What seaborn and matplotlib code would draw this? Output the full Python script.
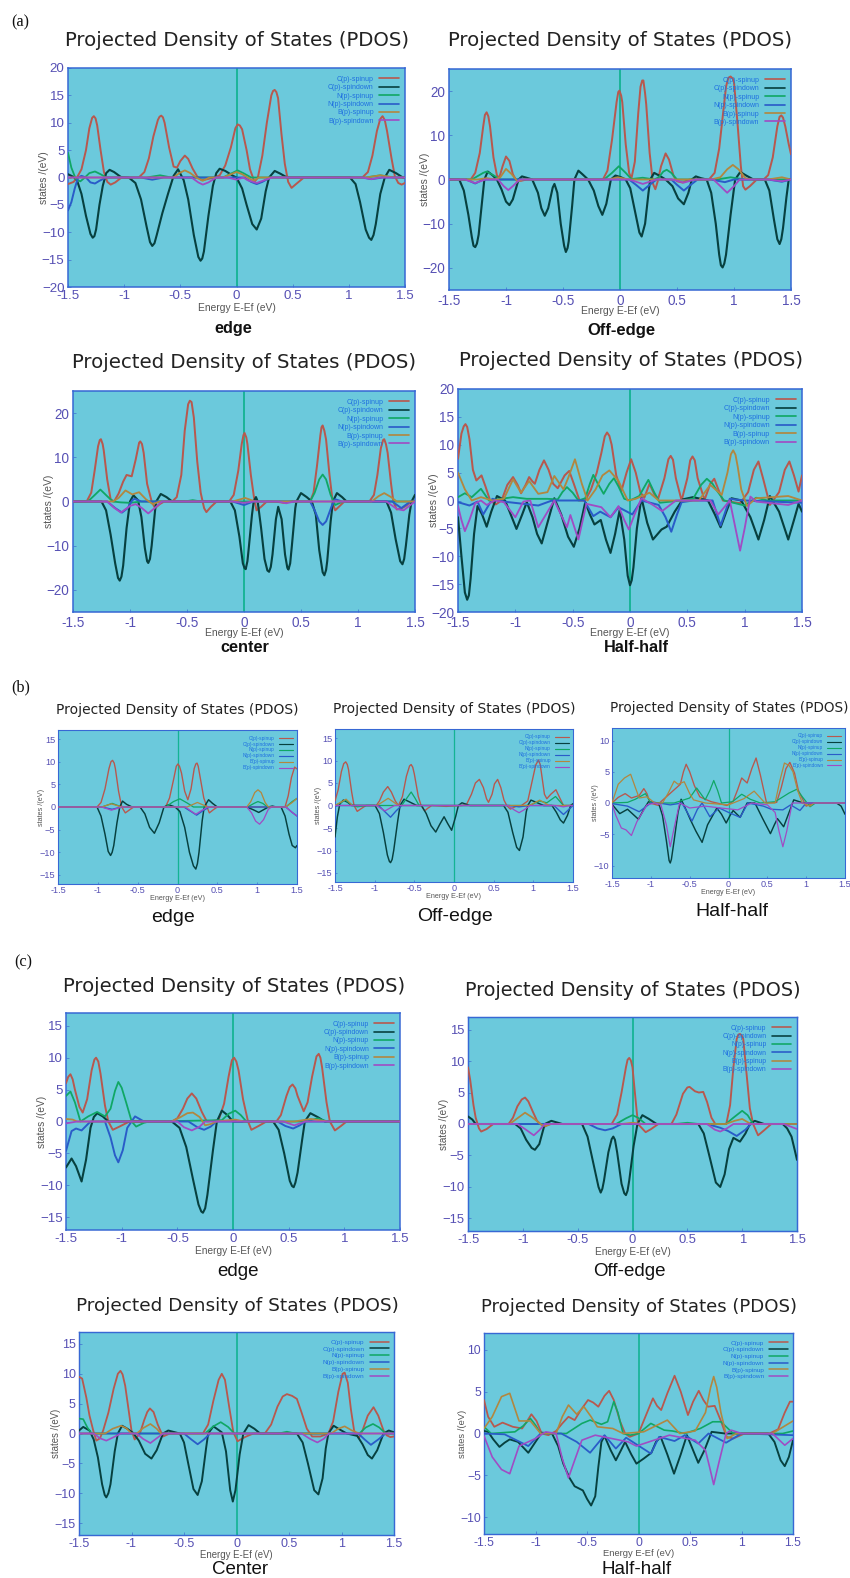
"""
PDOS panels (a), (b), (c) - curves read off the published figure.
Each curve is a list of (energy, states) points.
"""

import matplotlib
matplotlib.use('Agg')
import matplotlib.pyplot as plt
import seaborn as sns

W, H = 850, 1578

LABELS = ['C(p)-spinup', 'C(p)-spindown', 'N(p)-spinup', 'N(p)-spindown', 'B(p)-spinup', 'B(p)-spindown']
COLORS = ['#b8584e', '#07403f', '#10a765', '#2a5cc8', '#b2873f', '#a04cc4']
WIDTHS = [1.4, 1.5, 1.3, 1.4, 1.3, 1.3]
XTICKS = [-1.5, -1, -0.5, 0, 0.5, 1, 1.5]
XTICKLABELS = ['-1.5', '-1', '-0.5', '0', '0.5', '1', '1.5']
TITLE = 'Projected Density of States (PDOS)'

# ---- panel (a) edge
A1_CUP = [(-1.5,-1.2),(-1.45,-0.8),(-1.42,0),(-1.38,1.5),(-1.34,5),(-1.31,9),(-1.285,10.9),(-1.27,11.2),(-1.255,10.8),(-1.24,9.5),(-1.21,5),(-1.18,1),(-1.15,-0.8),(-1.12,-1.3),(-1.08,-0.9),(-1.03,-0.1),(-0.87,0),(-0.82,1),(-0.78,3.5),(-0.74,7.5),(-0.70,10.5),(-0.685,11.1),(-0.67,11.3),(-0.655,11),(-0.64,10),(-0.60,5.5),(-0.56,2),(-0.53,1.8),(-0.5,3),(-0.46,4),(-0.43,3.4),(-0.39,1.6),(-0.35,0.2),(-0.31,-0.5),(-0.26,-0.3),(-0.2,0),(-0.15,0.4),(-0.1,2.2),(-0.05,5.5),(-0.01,9),(0.01,9.7),(0.03,9.5),(0.05,8.8),(0.09,5),(0.12,1.5),(0.16,-0.8),(0.19,0),(0.23,4),(0.27,10),(0.31,15),(0.325,15.8),(0.34,16),(0.355,15.6),(0.37,14.5),(0.40,8),(0.43,2.5),(0.46,-0.8),(0.49,-1.9),(0.53,-1.2),(0.6,0),(1.12,0),(1.17,1),(1.21,4),(1.25,8.5),(1.28,10.7),(1.3,11.2),(1.32,10.5),(1.34,8.5),(1.38,3.5),(1.41,0.2),(1.44,-1),(1.47,-1.3),(1.5,-1)]
A1_CDN = [(-1.5,0.6),(-1.45,0.1),(-1.42,-0.5),(-1.38,-3),(-1.34,-7),(-1.3,-10.3),(-1.28,-11),(-1.265,-10.7),(-1.25,-9.5),(-1.22,-5),(-1.19,-1.5),(-1.16,0.8),(-1.13,1.4),(-1.09,1),(-1.03,0.1),(-0.96,0),(-0.9,-1),(-0.85,-4),(-0.8,-9),(-0.77,-11.8),(-0.75,-12.5),(-0.73,-12),(-0.71,-10.5),(-0.66,-6.5),(-0.61,-3),(-0.56,0.3),(-0.52,1.5),(-0.47,-0.5),(-0.43,-4),(-0.38,-10.5),(-0.34,-14.5),(-0.32,-15.2),(-0.305,-14.8),(-0.29,-13.5),(-0.25,-7),(-0.21,-1.5),(-0.18,0.8),(-0.15,1.6),(-0.1,1.2),(-0.03,0.3),(0,0),(0.05,-2),(0.09,-5),(0.14,-8.5),(0.18,-9.5),(0.22,-7.5),(0.26,-2.5),(0.29,0),(0.34,1.2),(0.39,0.7),(0.45,0),(1.01,0),(1.06,-1.2),(1.1,-4.5),(1.15,-9.5),(1.18,-11),(1.2,-11.4),(1.22,-10.5),(1.24,-8.5),(1.28,-3),(1.32,0),(1.36,1.4),(1.42,0.8),(1.48,0),(1.5,0)]
A1_NUP = [(-1.5,4.5),(-1.47,1.8),(-1.43,-0.3),(-1.39,-0.7),(-1.35,0),(-1.31,0.8),(-1.26,1.1),(-1.21,0.6),(-1.16,0),(-0.8,0),(-0.68,0.4),(-0.58,0),(-0.12,0),(-0.05,0.7),(0.01,1.3),(0.07,0.7),(0.13,0),(1.15,0),(1.28,0.4),(1.4,0),(1.5,0)]
A1_NDN = [(-1.5,-6),(-1.47,-4.5),(-1.44,-2),(-1.41,0),(-1.38,0.3),(-1.34,0),(-1.3,-0.9),(-1.26,-1.1),(-1.22,-0.6),(-1.16,0),(-0.85,0),(-0.75,-0.4),(-0.65,0),(0.07,0),(0.13,-0.8),(0.18,-1.2),(0.23,-0.8),(0.3,0),(1.12,0),(1.2,-0.3),(1.3,0),(1.5,0)]
A1_BUP = [(-1.5,0),(-0.56,0),(-0.51,0.8),(-0.46,1.3),(-0.41,0.8),(-0.36,0),(-0.3,-0.6),(-0.24,0),(-0.12,0),(-0.05,0.6),(0,1),(0.05,0.6),(0.1,0),(0.15,-0.6),(0.2,0),(1.15,0),(1.28,0.4),(1.4,0),(1.5,0)]
A1_BDN = [(-1.5,0),(-0.4,0),(-0.34,-0.9),(-0.3,-1.3),(-0.25,-0.9),(-0.18,0),(-0.08,0),(0,-0.4),(0.06,0),(0.1,-0.5),(0.18,-1),(0.26,-0.4),(0.32,0),(1.12,0),(1.2,-0.3),(1.28,0),(1.5,0)]

# ---- panel (a) off-edge
A2_CUP = [(-1.5,0),(-1.31,0),(-1.27,1.5),(-1.23,6),(-1.2,12),(-1.185,14.6),(-1.17,15.2),(-1.155,14.3),(-1.14,12),(-1.11,5),(-1.08,1),(-1.06,0.3),(-1.03,3),(-1,5.2),(-0.97,4.2),(-0.94,1.2),(-0.91,-0.2),(-0.87,-0.3),(-0.82,0),(-0.15,0),(-0.11,2),(-0.07,9),(-0.03,17.5),(-0.015,19.8),(-0.005,20.1),(0.01,19),(0.02,17.5),(0.05,8),(0.08,1.5),(0.1,0.2),(0.13,4),(0.16,15),(0.18,21),(0.195,22.4),(0.205,22.4),(0.22,19.5),(0.23,17),(0.26,6),(0.29,-1),(0.31,-2.2),(0.33,-0.5),(0.36,3),(0.4,5.9),(0.43,4.5),(0.47,0.8),(0.5,-0.4),(0.55,-0.7),(0.61,0),(0.78,0),(0.83,1.5),(0.87,7),(0.9,14),(0.93,21),(0.95,23),(0.97,23.3),(0.99,22.8),(1.0,22),(1.03,13),(1.06,3),(1.08,-1.5),(1.1,-2.3),(1.14,-1.5),(1.2,0),(1.26,0),(1.3,1),(1.34,5),(1.38,12),(1.4,14.2),(1.415,14.5),(1.43,14),(1.45,12),(1.48,8),(1.5,5.7)]
A2_CDN = [(-1.5,0),(-1.41,0),(-1.37,-2.5),(-1.33,-8),(-1.3,-13),(-1.285,-15),(-1.27,-15.3),(-1.255,-14.5),(-1.24,-12.5),(-1.21,-5),(-1.19,0),(-1.16,1.8),(-1.12,1),(-1.08,0),(-1.04,-2.2),(-1,-5),(-0.97,-5.8),(-0.94,-4.5),(-0.89,0),(-0.86,0.7),(-0.82,0.4),(-0.77,0),(-0.72,-3),(-0.69,-6.5),(-0.66,-8.2),(-0.63,-6.5),(-0.59,-1.8),(-0.575,-1),(-0.55,-3),(-0.52,-10),(-0.49,-15),(-0.475,-16.4),(-0.46,-15.5),(-0.45,-14),(-0.42,-6),(-0.4,0),(-0.365,2),(-0.33,1.2),(-0.28,0),(-0.23,-2.5),(-0.19,-6),(-0.155,-8),(-0.12,-5.5),(-0.08,0),(-0.04,0.9),(0.01,0.5),(0.05,0),(0.09,-2),(0.13,-7),(0.17,-12),(0.19,-12.9),(0.22,-10),(0.25,-3),(0.265,0),(0.3,1.5),(0.35,0.8),(0.4,0),(0.46,-1.5),(0.51,-4.3),(0.56,-5.6),(0.6,-3),(0.63,0),(0.665,0.7),(0.71,0.3),(0.76,0),(0.8,-3),(0.84,-10),(0.87,-17),(0.885,-19.4),(0.9,-19.9),(0.915,-19),(0.93,-17),(0.97,-8),(1.01,0),(1.055,1.7),(1.1,1),(1.17,0),(1.27,0),(1.31,-2.5),(1.35,-9),(1.38,-13.5),(1.4,-14.6),(1.415,-13.5),(1.43,-11),(1.46,-4),(1.48,0),(1.5,0)]
A2_NUP = [(-1.5,0),(-1.3,0),(-1.2,1.5),(-1.17,1.8),(-1.1,0.8),(-1.05,0),(-0.14,0),(-0.07,1.5),(-0.01,3),(0.05,1.5),(0.1,0.1),(0.2,0.4),(0.3,0),(0.34,0.5),(0.38,1.8),(0.41,2.2),(0.45,1.5),(0.5,0),(0.85,0),(0.97,0.5),(1.1,0),(1.5,0)]
A2_NDN = [(-1.5,0),(-1.35,0),(-1.27,-0.9),(-1.2,0),(0.08,0),(0.14,-1.2),(0.2,-2.5),(0.26,-1.2),(0.32,0),(0.45,0),(0.5,-1.2),(0.56,-2.5),(0.62,-1.2),(0.68,0),(0.8,0),(0.92,-0.6),(1.0,0),(1.3,0),(1.42,-0.5),(1.5,0)]
A2_BUP = [(-1.5,0),(-1.25,0),(-1.17,0.3),(-1.1,0),(-1.05,0.5),(-1.0,2.4),(-0.95,1.2),(-0.9,-0.4),(-0.85,0),(-0.1,0),(-0.02,0.5),(0.08,0),(0.8,0),(0.88,0.5),(0.94,2.3),(0.99,3.3),(1.04,2.3),(1.1,0.3),(1.15,0),(1.3,0),(1.42,0.5),(1.5,0)]
A2_BDN = [(-1.5,0),(-1.36,0),(-1.27,-0.8),(-1.18,0),(-1.07,0),(-1.02,-1.5),(-0.98,-2.4),(-0.94,-1.5),(-0.88,0),(0.08,0),(0.2,-1),(0.32,0),(0.46,0),(0.56,-0.7),(0.66,0),(0.82,0),(0.88,-1.5),(0.94,-3),(1.0,-1.5),(1.05,0),(1.3,0),(1.42,-0.4),(1.5,0)]

# ---- panel (a) center
A3_CUP = [(-1.5,0),(-1.38,0),(-1.34,2),(-1.31,7),(-1.28,12.5),(-1.265,13.9),(-1.255,14.1),(-1.24,13),(-1.23,11.5),(-1.2,5),(-1.17,0.5),(-1.14,0),(-1.1,1.8),(-1.06,4.5),(-1.03,6),(-0.985,5.7),(-0.95,9.5),(-0.92,13.3),(-0.91,13.6),(-0.895,13),(-0.88,11),(-0.85,4),(-0.81,0),(-0.78,-1.5),(-0.74,-0.6),(-0.7,0),(-0.63,0),(-0.59,1),(-0.55,6),(-0.52,16),(-0.49,22),(-0.475,22.8),(-0.46,22.5),(-0.44,19),(-0.41,9),(-0.38,2),(-0.35,-1.5),(-0.33,-2.4),(-0.29,-1.2),(-0.24,0),(-0.13,0),(-0.09,1.5),(-0.05,7),(-0.02,13),(-0.005,15),(0.005,15.5),(0.02,14.5),(0.03,13),(0.06,6),(0.09,0.5),(0.11,-2),(0.15,-1.2),(0.2,0),(0.3,-0.1),(0.35,-0.3),(0.42,0),(0.58,0),(0.61,2),(0.64,8),(0.67,15),(0.68,16.8),(0.69,17.2),(0.705,16),(0.72,14),(0.75,6),(0.78,-0.5),(0.8,-2),(0.84,-1),(0.88,0),(1.1,0),(1.14,1.5),(1.17,6),(1.2,12),(1.22,13.9),(1.23,14.1),(1.245,13),(1.26,11),(1.29,4),(1.31,0),(1.34,-1.8),(1.38,-1.6),(1.42,-1),(1.47,0),(1.5,0)]
A3_CDN = [(-1.5,0),(-1.25,0),(-1.21,-2),(-1.17,-7.5),(-1.13,-14),(-1.105,-17.3),(-1.09,-17.9),(-1.075,-17),(-1.06,-14.5),(-1.03,-6),(-1.0,0),(-0.97,1.4),(-0.93,0.3),(-0.9,-3.5),(-0.87,-10.5),(-0.85,-13.5),(-0.84,-13.9),(-0.825,-13),(-0.81,-10),(-0.78,-2),(-0.77,0),(-0.73,1.7),(-0.68,1),(-0.63,0),(-0.12,0),(-0.08,-2),(-0.04,-8),(-0.01,-14),(0.005,-15.1),(0.015,-15.3),(0.03,-13.5),(0.04,-11),(0.07,-3),(0.085,0),(0.105,1),(0.12,0),(0.15,-6),(0.18,-13),(0.205,-15.6),(0.22,-15.9),(0.235,-14.8),(0.25,-12),(0.28,-4),(0.3,-1.2),(0.33,-4),(0.36,-12),(0.38,-15),(0.39,-15.4),(0.405,-14),(0.42,-10),(0.45,-1.5),(0.46,0),(0.5,1.9),(0.55,1),(0.595,0),(0.63,-3),(0.66,-11),(0.69,-16),(0.705,-16.7),(0.72,-15.5),(0.73,-13.5),(0.76,-4.5),(0.78,0),(0.815,1.9),(0.86,1),(0.9,0),(1.25,0),(1.29,-2.5),(1.33,-8.5),(1.37,-13.5),(1.39,-14.2),(1.405,-13),(1.42,-10),(1.45,-3),(1.47,0),(1.5,1.5)]
A3_NUP = [(-1.5,0),(-1.37,0),(-1.32,1.2),(-1.26,2.7),(-1.2,1.2),(-1.15,0),(-1.08,-0.2),(-1,-0.3),(-0.9,0),(-0.52,0),(-0.45,0.3),(-0.38,0),(0.58,0),(0.62,2),(0.66,5),(0.69,6.1),(0.72,5),(0.76,1.5),(0.8,-0.8),(0.85,-0.2),(0.9,0),(1.5,0)]
A3_NDN = [(-1.5,0),(-1.2,0),(-1.13,-1.5),(-1.07,-2.5),(-1.02,-1.5),(-0.98,0.3),(-0.96,0.6),(-0.9,0),(-0.1,0),(0.0,-0.8),(0.08,0),(0.58,0),(0.62,-2),(0.66,-4.5),(0.69,-5.3),(0.72,-4.5),(0.77,-1),(0.8,0.5),(0.86,0),(1.3,0),(1.38,-1.5),(1.46,0),(1.5,0)]
A3_BUP = [(-1.5,0),(-1.15,0),(-1.1,0.8),(-1.04,2.5),(-0.98,1.6),(-0.92,2.1),(-0.86,0.5),(-0.8,-0.6),(-0.74,0),(-0.1,0),(0.01,0.8),(0.1,0),(1.12,0),(1.18,1.2),(1.23,1.9),(1.29,1),(1.34,0),(1.5,0)]
A3_BDN = [(-1.5,0),(-1.2,0),(-1.14,-1.4),(-1.08,-2.5),(-1,-1),(-0.95,-0.6),(-0.9,-1.4),(-0.84,-2.7),(-0.78,-1.4),(-0.72,0),(-0.1,0),(0,-0.3),(0.08,0),(0.3,0),(0.37,-0.4),(0.44,0),(1.25,0),(1.33,-1.5),(1.36,-1.8),(1.4,-2),(1.45,-1),(1.5,0)]

# ---- panel (a) half-half
A4_CUP = [(-1.5,7.5),(-1.47,12),(-1.45,13.3),(-1.435,13.7),(-1.42,13.2),(-1.4,11),(-1.37,5.5),(-1.34,3.6),(-1.295,4.5),(-1.26,2.5),(-1.22,0),(-1.17,-0.7),(-1.12,0),(-1.07,2.8),(-1.02,4.2),(-0.98,2.8),(-0.95,1.3),(-0.91,2.8),(-0.88,4.2),(-0.85,3.4),(-0.83,3),(-0.79,5.5),(-0.75,7.2),(-0.71,5.5),(-0.67,3),(-0.63,2.2),(-0.57,4.5),(-0.53,5.3),(-0.49,3),(-0.44,0),(-0.39,0),(-0.34,2),(-0.29,5),(-0.25,8.5),(-0.22,11.5),(-0.2,12.2),(-0.18,11.6),(-0.16,10),(-0.12,4.5),(-0.075,1.7),(-0.03,5),(0.01,7.4),(0.05,5),(0.09,1.5),(0.125,0.5),(0.17,3),(0.21,1.2),(0.245,0.3),(0.3,4),(0.335,7.4),(0.355,8),(0.375,7.3),(0.4,4),(0.45,0),(0.5,4),(0.525,7.2),(0.545,7.9),(0.565,7.2),(0.59,4),(0.65,0.1),(0.7,3),(0.735,3.9),(0.77,2),(0.81,0),(0.96,-0.5),(1.03,1.5),(1.08,5.5),(1.12,7),(1.16,4),(1.22,-0.8),(1.3,1.5),(1.35,5.5),(1.39,7),(1.43,4.5),(1.47,1.6),(1.5,4.5)]
A4_CDN = [(-1.5,-3),(-1.47,-10),(-1.44,-16.5),(-1.42,-17.8),(-1.405,-17),(-1.39,-14),(-1.36,-6),(-1.33,-1),(-1.29,-2.5),(-1.25,-4.7),(-1.21,-2),(-1.16,0.8),(-1.09,0),(-1.05,-2),(-0.99,-5.1),(-0.94,-2.5),(-0.9,-0.3),(-0.85,-3),(-0.81,-6),(-0.77,-7.7),(-0.72,-4),(-0.66,0.4),(-0.6,-2.5),(-0.54,-6.5),(-0.49,-8.3),(-0.44,-5),(-0.39,-0.3),(-0.35,-2.5),(-0.31,-4.3),(-0.255,-3.5),(-0.21,-7),(-0.17,-9.4),(-0.13,-6),(-0.09,-1.7),(-0.05,-7),(-0.02,-13.5),(0,-15.2),(0.015,-14.3),(0.03,-12),(0.06,-5),(0.1,0.5),(0.15,-4),(0.2,-7),(0.275,-5.2),(0.32,-4.7),(0.39,-2),(0.46,0.2),(0.55,0.6),(0.68,0),(0.74,-2.5),(0.79,-4.8),(0.84,-2),(0.885,0.4),(0.97,0),(1.05,-3),(1.12,-7),(1.17,-3.5),(1.22,0.8),(1.3,-2),(1.38,-7),(1.43,-3.5),(1.47,-0.6),(1.5,-2)]
A4_NUP = [(-1.5,0.6),(-1.44,1.3),(-1.38,0.6),(-1.3,2.1),(-1.23,0),(-1.02,0.6),(-0.9,0.3),(-0.72,0.3),(-0.63,0.2),(-0.59,1.5),(-0.55,2.4),(-0.5,1.4),(-0.45,0),(-0.39,0.4),(-0.35,3),(-0.32,4.6),(-0.28,3),(-0.23,1.2),(-0.18,3),(-0.14,4),(-0.1,2.5),(-0.05,0.3),(0,0),(0.08,0.8),(0.16,3.7),(0.21,1.5),(0.26,-0.4),(0.45,0),(0.55,0.3),(0.62,2.8),(0.67,3.9),(0.72,3),(0.75,2),(0.82,0),(1,-0.9),(1.1,0.5),(1.2,0),(1.5,0)]
A4_NDN = [(-1.5,-0.3),(-1.4,-0.9),(-1.33,-0.2),(-1.28,-2.5),(-1.2,0.3),(-1.1,-0.2),(-0.8,-0.9),(-0.68,0),(-0.4,0),(-0.32,-2.8),(-0.26,-2),(-0.17,-3),(-0.1,-1.2),(0.02,-2.5),(0.1,0),(0.25,-0.8),(0.31,-3),(0.36,-5.6),(0.41,-2.5),(0.45,-0.3),(0.55,0),(0.72,0),(0.79,-4.5),(0.87,0.3),(1,0),(1.5,-0.4)]
A4_BUP = [(-1.5,5),(-1.44,2),(-1.38,0),(-1.3,0.6),(-1.2,0),(-1.1,0.3),(-1.02,3.8),(-0.95,1.4),(-0.88,3.5),(-0.8,1.2),(-0.72,1.5),(-0.66,4.4),(-0.58,2),(-0.54,4),(-0.48,7.4),(-0.42,3),(-0.37,0),(-0.3,2),(-0.24,4.5),(-0.18,5.4),(-0.1,3.5),(-0.02,0),(0.05,0.3),(0.17,1.4),(0.25,0),(0.6,0),(0.7,2.8),(0.8,1),(0.85,5),(0.88,8.3),(0.9,9),(0.92,8.2),(0.94,6),(0.97,2),(1.02,-1),(1.1,0.4),(1.38,0.8),(1.5,0)]
A4_BDN = [(-1.5,-1),(-1.47,-3.5),(-1.44,-5.5),(-1.4,-3.5),(-1.35,-0.5),(-1.3,0),(-1.25,-0.8),(-1.18,0),(-1.1,-0.3),(-1.0,-3),(-0.93,-0.2),(-0.87,0),(-0.8,-4.8),(-0.66,0),(-0.55,-4.8),(-0.52,-2.6),(-0.45,-7),(-0.38,-0.6),(-0.25,-1.2),(-0.17,-3),(-0.1,-1),(-0.05,-3.5),(-0.01,-5.2),(0.04,-2.5),(0.1,0.4),(0.2,-0.8),(0.28,-1.9),(0.4,0),(0.7,0),(0.77,-2.5),(0.87,0),(0.92,-5),(0.96,-9),(1.0,-5),(1.05,0.7),(1.1,-0.2),(1.38,-0.8),(1.5,0)]

# ---- panel (b) edge
B1_CUP = [(-1.5,0),(-1.01,0),(-0.96,1),(-0.91,4),(-0.86,8.5),(-0.835,10),(-0.815,10.3),(-0.795,9.7),(-0.78,8.5),(-0.74,3.5),(-0.7,0),(-0.655,-1.3),(-0.6,-0.6),(-0.55,0),(-0.15,0),(-0.1,2),(-0.05,6),(-0.015,9),(0.005,9.5),(0.025,9),(0.05,7.5),(0.09,3.5),(0.13,1.6),(0.17,4),(0.21,8.5),(0.23,9.5),(0.245,9.7),(0.26,9),(0.28,7),(0.33,2),(0.37,0),(0.4,-1.3),(0.45,-0.6),(0.5,0),(1.35,0),(1.39,2.5),(1.43,6.5),(1.47,8.8),(1.5,8.4)]
B1_CDN = [(-1.5,0),(-1.01,0),(-0.96,-2),(-0.91,-6),(-0.87,-9.8),(-0.84,-10.7),(-0.82,-10),(-0.8,-8.5),(-0.76,-3.5),(-0.725,0),(-0.69,1.3),(-0.64,0.6),(-0.57,0),(-0.47,0),(-0.41,-1.5),(-0.35,-4.5),(-0.29,-5.8),(-0.23,-3.5),(-0.17,0),(-0.11,0.5),(-0.03,0),(0.03,-1),(0.09,-4.5),(0.15,-10),(0.2,-13),(0.23,-13.7),(0.25,-12.5),(0.27,-10),(0.31,-3),(0.335,0),(0.39,1.6),(0.44,0.8),(0.5,0),(0.87,0),(0.95,-0.6),(1.02,-1.2),(1.1,-0.4),(1.14,0),(1.19,0.2),(1.24,0),(1.3,0),(1.35,-2),(1.4,-6),(1.44,-8.5),(1.48,-9),(1.5,-8.5)]
B1_NUP = [(-1.5,0),(-0.95,0),(-0.82,0.8),(-0.7,0),(-0.15,0),(-0.05,1.2),(0.03,1.8),(0.12,0.9),(0.2,0),(0.88,0),(0.96,0.8),(1.01,1.2),(1.07,0.8),(1.13,0),(1.36,0),(1.44,1.2),(1.5,1.9)]
B1_NDN = [(-1.5,0),(-0.95,0),(-0.82,-0.5),(-0.7,0),(0.08,0),(0.17,-1),(0.24,-1.8),(0.32,-0.8),(0.4,0),(1.36,0),(1.44,-1.2),(1.5,-2)]
B1_BUP = [(-1.5,0),(-0.95,0),(-0.83,0.7),(-0.7,0),(0.12,0),(0.25,1),(0.38,0),(0.87,0),(0.92,1.2),(0.97,3.2),(1.01,3.8),(1.05,3.2),(1.1,1),(1.14,0),(1.36,0),(1.44,1),(1.5,1.9)]
B1_BDN = [(-1.5,0),(-0.95,0),(-0.83,-0.7),(-0.7,0),(0.1,0),(0.17,-0.9),(0.23,-1.6),(0.3,-0.8),(0.38,0),(0.87,0),(0.93,-1.3),(0.98,-3.1),(1.03,-3.8),(1.08,-2.8),(1.14,-0.5),(1.18,0),(1.36,0),(1.44,-1.2),(1.5,-2)]

# ---- panel (b) off-edge
B2_CUP = [(-1.5,1),(-1.46,3.5),(-1.42,7.5),(-1.39,9.3),(-1.365,9.7),(-1.345,9.1),(-1.33,8),(-1.29,3),(-1.26,0),(-1.22,-1.3),(-1.17,-0.7),(-1.11,0),(-0.98,0),(-0.94,1),(-0.89,3),(-0.835,4.2),(-0.79,3),(-0.74,1),(-0.7,0),(-0.65,2),(-0.6,6.5),(-0.56,8.8),(-0.54,9.1),(-0.52,8.5),(-0.5,7),(-0.45,2),(-0.415,0),(-0.37,-1.2),(-0.33,-0.6),(-0.28,0),(-0.1,-0.2),(0.1,0),(0.16,0.3),(0.22,2.5),(0.27,5),(0.32,5.8),(0.37,4),(0.41,1.5),(0.435,0.7),(0.48,2.5),(0.51,4.8),(0.55,5.8),(0.59,4),(0.63,1.2),(0.665,0),(0.71,-0.8),(0.78,-0.2),(0.85,0),(0.93,1),(0.98,5),(1.03,9),(1.065,10.1),(1.085,9.2),(1.1,7.5),(1.14,2.5),(1.17,1.5),(1.22,2.5),(1.285,3.5),(1.33,1.8),(1.38,0),(1.5,0)]
B2_CDN = [(-1.5,-7),(-1.47,-2.5),(-1.44,0.3),(-1.395,1.2),(-1.34,0.7),(-1.29,0),(-0.995,0),(-0.94,-1.8),(-0.89,-6),(-0.84,-11),(-0.815,-12.4),(-0.8,-12.7),(-0.78,-12),(-0.76,-10),(-0.71,-3.5),(-0.68,0),(-0.63,1.4),(-0.55,0.7),(-0.47,0),(-0.41,0),(-0.35,-1.8),(-0.29,-4.5),(-0.23,-5.9),(-0.18,-4.2),(-0.125,-2.5),(-0.08,-4),(-0.03,-5.5),(0.02,-2.5),(0.055,0),(0.1,0.6),(0.2,0),(0.625,0),(0.68,-1.5),(0.74,-6),(0.79,-9.3),(0.825,-10),(0.87,-7),(0.91,-1.5),(0.93,0),(0.97,1.2),(1.05,0.6),(1.13,0),(1.235,0),(1.29,-1.5),(1.34,-3.2),(1.38,-3.9),(1.43,-2.2),(1.47,0),(1.5,0.4)]
B2_NUP = [(-1.5,0),(-1.45,0.4),(-1.37,1.2),(-1.3,0.3),(-1.22,-0.3),(-1.1,0),(-0.66,0),(-0.6,1.5),(-0.54,3),(-0.49,1.6),(-0.44,0),(0.95,0),(1.08,1),(1.17,0.6),(1.28,2),(1.38,0),(1.5,0)]
B2_NDN = [(-1.5,0),(-0.95,0),(-0.87,-1.4),(-0.8,-2.6),(-0.73,-1.2),(-0.66,0),(0.7,0),(0.82,-0.3),(0.95,0),(1.26,0),(1.32,-1),(1.38,-2),(1.44,-1),(1.5,0)]
B2_BUP = [(-1.5,0),(-1.44,0.6),(-1.36,1.4),(-1.28,0),(-0.97,0),(-0.83,1.6),(-0.7,0),(0.95,0),(1.08,1.2),(1.2,0),(1.5,0)]
B2_BDN = [(-1.5,0),(-0.98,0),(-0.87,-1.2),(-0.75,0),(0.68,0),(0.76,-1),(0.82,-1.6),(0.88,-1),(0.96,0),(1.28,0),(1.38,-0.3),(1.46,0),(1.5,0)]

# ---- panel (b) half-half
B3_CUP = [(-1.5,0),(-1.42,0.9),(-1.33,1.5),(-1.25,0.8),(-1.15,1.2),(-1.09,2.3),(-1.05,1.5),(-1.01,0),(-0.9,-0.4),(-0.88,0.1),(-0.8,1),(-0.71,2),(-0.62,3),(-0.58,5),(-0.545,6.2),(-0.5,5),(-0.44,2.8),(-0.37,1),(-0.3,0.6),(-0.22,0.2),(-0.15,0),(-0.02,-0.4),(0.06,0.3),(0.12,2.2),(0.17,4),(0.24,3.2),(0.3,5.5),(0.355,7.2),(0.41,4.5),(0.49,0),(0.62,0.1),(0.68,2.5),(0.74,5.5),(0.79,6.5),(0.85,4.8),(0.9,2),(0.94,1),(1,-0.5),(1.1,0),(1.5,0)]
B3_CDN = [(-1.5,-0.2),(-1.4,-1.7),(-1.3,-1),(-1.23,-1.8),(-1.16,-2.6),(-1.09,-1),(-1.03,0.2),(-0.9,0),(-0.85,-2),(-0.8,-6),(-0.765,-9.2),(-0.75,-9.6),(-0.735,-9),(-0.7,-6),(-0.65,-1.5),(-0.61,0.6),(-0.55,-1),(-0.49,-2.7),(-0.42,-4.5),(-0.34,-6.3),(-0.27,-3.5),(-0.15,-0.8),(-0.09,-1.8),(-0.03,-3.2),(0.02,-2),(0.06,-1.2),(0.15,-2.3),(0.24,0),(0.34,0),(0.44,-2.5),(0.54,-4.9),(0.59,-3.5),(0.63,-2.5),(0.71,-3.8),(0.78,-1.5),(0.84,0.5),(0.965,0),(1.39,0),(1.45,-0.5),(1.5,-1.8)]
B3_NUP = [(-1.5,0),(-1.3,0.1),(-1.2,0.6),(-1.07,1.5),(-1,0),(-0.7,0),(-0.5,0.8),(-0.41,2.4),(-0.3,0.5),(-0.24,2),(-0.19,3.6),(-0.14,2),(-0.09,0),(0.05,0.2),(0.17,1.4),(0.28,0.6),(0.41,0),(0.6,0.2),(0.78,1.6),(0.88,2.2),(0.95,1),(1.05,-0.6),(1.12,0),(1.5,0)]
B3_NDN = [(-1.5,-0.1),(-1.3,-0.5),(-1.15,-1.4),(-1.0,0),(-0.85,-0.1),(-0.75,-0.3),(-0.6,0),(-0.53,-1.5),(-0.47,-2.9),(-0.4,-1),(-0.34,0),(-0.24,-2.2),(-0.12,-0.8),(0,-1.5),(0.15,-2.3),(0.25,0),(0.45,-0.5),(0.55,-1),(0.7,-1.1),(0.8,-0.3),(0.92,-1.2),(1,0),(1.5,0)]
B3_BUP = [(-1.5,0),(-1.42,3),(-1.34,4),(-1.26,4.6),(-1.2,2.5),(-1.15,0.8),(-1.05,1),(-0.95,0),(-0.85,0),(-0.78,1.5),(-0.7,3.5),(-0.65,3),(-0.57,3.4),(-0.5,1.5),(-0.45,0.5),(-0.3,0),(0,-0.3),(0.2,0.7),(0.33,1.9),(0.47,0),(0.6,0),(0.66,3.5),(0.72,6.4),(0.78,6),(0.83,5),(0.89,2),(0.95,0),(1.05,-0.5),(1.1,0),(1.5,0)]
B3_BDN = [(-1.5,-0.2),(-1.45,-2),(-1.38,-4),(-1.32,-4.3),(-1.25,-5.2),(-1.18,-3),(-1.05,-0.3),(-0.95,0),(-0.87,-0.3),(-0.8,-3.5),(-0.75,-7),(-0.7,-4),(-0.63,0),(-0.5,-0.8),(-0.3,-0.5),(-0.1,-0.8),(0.12,-1.1),(0.3,0),(0.5,-0.3),(0.6,-1.5),(0.65,-4.5),(0.7,-7),(0.75,-4.5),(0.82,0),(1,0),(1.5,0)]

# ---- panel (c) edge
C1_CUP = [(-1.5,6),(-1.48,7),(-1.46,7.4),(-1.44,6.6),(-1.42,5),(-1.38,2.3),(-1.35,1.4),(-1.31,3.5),(-1.27,8),(-1.245,9.7),(-1.23,10),(-1.21,9.4),(-1.19,7.5),(-1.15,2.5),(-1.12,0),(-1.08,-1.3),(-1.02,-0.8),(-0.93,0),(-0.55,0),(-0.5,0.5),(-0.45,2),(-0.41,3.6),(-0.37,4.4),(-0.33,3.6),(-0.28,1.5),(-0.235,0),(-0.13,0.2),(-0.08,2.8),(-0.04,7),(-0.01,9.6),(0.01,10),(0.03,9.4),(0.05,8),(0.09,3.5),(0.135,0),(0.165,-1.3),(0.23,-0.7),(0.3,0),(0.39,0),(0.43,1),(0.48,4),(0.51,5.4),(0.535,5.8),(0.56,5.2),(0.58,4),(0.635,1.6),(0.67,3),(0.71,7),(0.75,10.2),(0.77,10.6),(0.785,10),(0.8,8.5),(0.84,3),(0.87,0),(0.915,-1.4),(0.97,-0.7),(1.02,0),(1.5,0)]
C1_CDN = [(-1.5,-7.2),(-1.45,-5.8),(-1.41,-7),(-1.36,-9.4),(-1.32,-6),(-1.28,-1),(-1.25,0.7),(-1.22,1.3),(-1.17,0.8),(-1.12,0),(-0.55,0),(-0.48,-1),(-0.42,-4),(-0.36,-9),(-0.31,-13),(-0.285,-14.1),(-0.27,-14.3),(-0.25,-13.6),(-0.23,-11.5),(-0.18,-4.5),(-0.145,0),(-0.1,1.7),(-0.05,1),(0,0),(0.36,0),(0.41,-1.3),(0.46,-5),(0.51,-9.3),(0.53,-10.1),(0.545,-10.3),(0.56,-9.6),(0.58,-8),(0.62,-3),(0.645,0),(0.695,1.3),(0.76,0.7),(0.825,0),(1.5,0)]
C1_NUP = [(-1.5,4),(-1.46,4.7),(-1.42,3),(-1.37,0),(-1.3,0.8),(-1.22,1.5),(-1.15,0.8),(-1.1,2),(-1.06,4.8),(-1.03,6.2),(-1,5.3),(-0.96,3),(-0.91,0),(-0.87,-0.8),(-0.8,-0.2),(-0.75,0),(-0.1,0.2),(-0.04,1.2),(0.02,1.7),(0.07,1),(0.12,0),(0.25,0),(0.66,0),(0.76,0.5),(0.85,0),(1.5,0)]
C1_NDN = [(-1.5,-4.6),(-1.45,-1.5),(-1.41,-1.1),(-1.36,-1.4),(-1.28,0),(-1.15,0),(-1.1,-2.5),(-1.06,-5.3),(-1.03,-6.4),(-0.99,-4.5),(-0.95,-1),(-0.88,0.8),(-0.8,0),(-0.4,0),(-0.32,-0.9),(-0.26,-1.3),(-0.2,-0.8),(-0.15,0),(0.4,0),(0.47,-0.7),(0.54,-1.1),(0.6,-0.6),(0.65,0),(1.5,0)]
C1_BUP = [(-1.5,0.4),(-1.44,0.3),(-1.4,0),(-0.55,0),(-0.47,0.7),(-0.41,1.3),(-0.36,1.4),(-0.3,0.7),(-0.25,-0.6),(-0.2,-0.4),(-0.15,0),(0.02,0.3),(0.1,0),(0.55,0),(0.7,0.4),(0.85,0),(1.5,0)]
C1_BDN = [(-1.5,-0.3),(-1.4,0),(-0.5,0),(-0.44,-0.9),(-0.37,-1.4),(-0.3,-0.8),(-0.25,0),(0.45,0),(0.55,-0.6),(0.65,0),(1.5,0)]

# ---- panel (c) off-edge
C2_CUP = [(-1.5,9),(-1.48,7),(-1.45,3),(-1.43,1),(-1.4,-0.7),(-1.38,-1.2),(-1.33,-0.8),(-1.27,0),(-1.13,0),(-1.09,1),(-1.05,2.8),(-1.01,3.9),(-0.98,4.2),(-0.95,3.6),(-0.91,2),(-0.87,0.5),(-0.84,0),(-0.8,-0.4),(-0.75,0),(-0.19,0),(-0.14,1.5),(-0.1,5),(-0.06,9),(-0.045,10.2),(-0.03,10.5),(-0.015,10.1),(0,9),(0.03,3.5),(0.05,0),(0.12,-1.3),(0.17,-0.8),(0.235,0),(0.355,0),(0.4,1.5),(0.46,4.8),(0.5,5.8),(0.52,5.9),(0.57,5.2),(0.605,5),(0.645,5.1),(0.68,3.5),(0.72,1),(0.755,0),(0.855,0),(0.89,3),(0.92,9),(0.95,13.5),(0.965,14.2),(0.98,14.3),(0.995,14.1),(1.01,13.5),(1.04,8),(1.07,2.5),(1.1,0),(1.145,-1.8),(1.2,-1),(1.265,0),(1.5,0)]
C2_CDN = [(-1.5,1.2),(-1.46,0.7),(-1.43,0),(-1.07,0),(-1.02,-0.7),(-0.97,-2.5),(-0.92,-3.8),(-0.89,-4.1),(-0.85,-3.2),(-0.8,0),(-0.74,0.5),(-0.64,0),(-0.46,0),(-0.41,-2),(-0.36,-6),(-0.31,-10),(-0.29,-10.9),(-0.275,-10.3),(-0.26,-9),(-0.22,-4.5),(-0.19,-2.4),(-0.175,-2),(-0.16,-2.5),(-0.14,-4.5),(-0.1,-9.5),(-0.075,-11),(-0.06,-11.3),(-0.045,-10.6),(-0.03,-9),(0.01,-3.5),(0.045,0),(0.09,1.4),(0.15,0.8),(0.22,0),(0.6,0),(0.65,-1.5),(0.7,-5),(0.76,-9.3),(0.8,-10),(0.84,-8),(0.88,-4),(0.92,-2.2),(0.98,-2.8),(1.03,-1.5),(1.07,0),(1.115,0.5),(1.2,0),(1.37,0),(1.41,-0.7),(1.45,-2),(1.48,-4.2),(1.5,-5.7)]
C2_NUP = [(-1.5,0),(-0.15,0),(-0.06,0.9),(0,1.4),(0.05,1),(0.12,0),(0.4,0),(0.5,0.2),(0.6,0),(0.85,0),(0.92,1),(1.0,2.1),(1.05,1.4),(1.1,0),(1.5,0)]
C2_NDN = [(-1.5,0),(-0.4,0),(-0.32,-0.7),(-0.25,-1),(-0.18,-0.7),(-0.1,0),(0.68,0),(0.8,-0.6),(0.87,-1.1),(0.95,-1.9),(1.03,-0.9),(1.08,0),(1.5,0)]
C2_BUP = [(-1.5,0),(-1.12,0),(-1.05,0.9),(-0.98,1.8),(-0.91,1),(-0.84,0),(-0.8,-0.3),(-0.74,0),(-0.1,0),(0,0.2),(0.1,0),(0.85,0),(0.93,0.5),(1,0.8),(1.08,0),(1.5,0)]
C2_BDN = [(-1.5,0),(-1.05,0),(-0.98,-0.8),(-0.9,-1.8),(-0.85,-1),(-0.8,0),(0.68,0),(0.75,-0.9),(0.8,-1.2),(0.86,-0.7),(0.92,0),(1.38,0),(1.5,-0.8)]

# ---- panel (c) center
C3_CUP = [(-1.5,9.5),(-1.47,9.2),(-1.43,6),(-1.4,3),(-1.36,0.2),(-1.335,-1.2),(-1.3,-0.8),(-1.27,0.5),(-1.22,3.5),(-1.17,7.5),(-1.13,10),(-1.105,10.5),(-1.085,9.9),(-1.06,8),(-1.04,5.5),(-1,0.5),(-0.97,-1),(-0.92,0),(-0.88,2.2),(-0.85,3.6),(-0.825,4.2),(-0.79,3.6),(-0.75,1.5),(-0.7,-0.5),(-0.635,0),(-0.32,0),(-0.27,1.5),(-0.22,5.5),(-0.17,9),(-0.14,10),(-0.11,9),(-0.07,4.5),(-0.03,0.2),(0.01,-1.3),(0.08,-0.6),(0.16,0),(0.27,0),(0.33,1.5),(0.39,4.5),(0.44,6.2),(0.48,6.6),(0.53,6.3),(0.575,5.8),(0.62,3.5),(0.67,0.8),(0.72,-0.5),(0.8,-0.5),(0.875,0),(0.92,2),(0.97,7),(1.01,10),(1.03,10.2),(1.06,8.5),(1.09,4),(1.12,0.5),(1.165,-0.8),(1.2,0.5),(1.25,3),(1.305,4.4),(1.35,3),(1.4,0.5),(1.43,-0.3),(1.465,-0.6),(1.5,-0.5)]
C3_CDN = [(-1.5,0.5),(-1.46,1.1),(-1.4,0.5),(-1.36,-1),(-1.32,-4),(-1.28,-8.5),(-1.255,-10.3),(-1.24,-10.7),(-1.22,-10),(-1.2,-8.5),(-1.16,-3),(-1.13,0),(-1.09,1.3),(-1.04,0.8),(-0.985,0.1),(-0.93,-1.2),(-0.87,-3.4),(-0.81,-4.2),(-0.76,-2.8),(-0.7,0),(-0.65,0.5),(-0.54,0),(-0.5,-1.5),(-0.46,-5),(-0.41,-9.3),(-0.37,-10.3),(-0.33,-8),(-0.29,-2.5),(-0.27,0),(-0.22,1.2),(-0.14,0.2),(-0.1,-3),(-0.06,-9.5),(-0.035,-11.4),(-0.01,-9.5),(0.03,-3.5),(0.065,0),(0.115,1.4),(0.17,0.8),(0.225,0),(0.575,0),(0.63,-1.5),(0.68,-5),(0.74,-9.5),(0.78,-10.2),(0.82,-7.5),(0.85,-2.5),(0.875,0),(0.925,1.3),(0.98,0.7),(1.05,0),(1.15,-0.4),(1.2,-1.8),(1.25,-3.6),(1.29,-4.2),(1.34,-2.8),(1.4,0),(1.45,0.5),(1.5,0.2)]
C3_NUP = [(-1.5,2.5),(-1.46,2.4),(-1.42,1),(-1.38,0),(-0.3,0),(-0.22,1.2),(-0.15,1.9),(-0.08,1.1),(-0.02,0),(0.4,0),(0.48,0.3),(0.56,0),(1.17,0),(1.23,1),(1.3,1.6),(1.36,1),(1.42,0),(1.5,0)]
C3_NDN = [(-1.5,0),(-0.5,0),(-0.43,-1),(-0.37,-1.8),(-0.31,-1),(-0.25,0),(1.16,0),(1.22,-1),(1.28,-1.9),(1.35,-1),(1.42,0),(1.5,0)]
C3_BUP = [(-1.5,0),(-1.25,0),(-1.18,0.8),(-1.1,1.3),(-1.05,0.9),(-1,0),(-0.95,0),(-0.89,0.9),(-0.82,1.6),(-0.76,0.8),(-0.72,0),(0.9,0),(0.97,0.8),(1.03,1.2),(1.1,0.5),(1.17,0),(1.5,0)]
C3_BDN = [(-1.5,0),(-1.36,0),(-1.3,-0.8),(-1.24,-1.2),(-1.18,-0.7),(-1.1,0),(-0.95,0),(-0.89,-0.9),(-0.82,-1.6),(-0.76,-0.8),(-0.7,0),(0.62,0),(0.7,-0.9),(0.77,-1.5),(0.83,-0.9),(0.88,0),(1.5,0)]

# ---- panel (c) half-half
C4_CUP = [(-1.5,4),(-1.46,2),(-1.4,0.8),(-1.32,1.3),(-1.22,0.8),(-1.13,0.6),(-1.08,1.5),(-1.04,2.3),(-0.99,1.5),(-0.94,0),(-0.875,-0.2),(-0.8,0.3),(-0.74,1.2),(-0.68,2),(-0.62,1.6),(-0.56,2.8),(-0.49,4),(-0.44,3.7),(-0.39,3.2),(-0.33,4.5),(-0.285,5.1),(-0.24,4),(-0.18,1.5),(-0.13,0),(-0.085,-0.4),(0,0),(0.06,1.8),(0.14,4.2),(0.18,3.3),(0.22,2.8),(0.28,4.8),(0.35,6.9),(0.41,5),(0.48,2.2),(0.53,3.8),(0.585,5.1),(0.63,4),(0.675,3.2),(0.74,3.3),(0.8,1.5),(0.855,-0.4),(0.92,-0.6),(1.03,0),(1.27,0),(1.355,0.5),(1.42,2.5),(1.47,3.8),(1.5,3.8)]
C4_CDN = [(-1.5,0.3),(-1.46,0.2),(-1.41,-0.7),(-1.35,-1.6),(-1.3,-1.1),(-1.25,-0.7),(-1.17,-1),(-1.07,-2.3),(-1,-1),(-0.94,0.1),(-0.84,0),(-0.78,-1.5),(-0.73,-3.6),(-0.67,-5.3),(-0.62,-6.3),(-0.54,-6.8),(-0.5,-7.8),(-0.46,-8.6),(-0.42,-7.5),(-0.39,-4),(-0.36,-1),(-0.33,-0.3),(-0.27,-2),(-0.22,-3.2),(-0.17,-2),(-0.13,-1),(-0.07,-2.5),(-0.02,-3.6),(0.05,-3),(0.125,-2.3),(0.17,-1),(0.215,-0.4),(0.28,-2.5),(0.345,-4.8),(0.41,-2.5),(0.47,-0.2),(0.53,-2),(0.58,-3.5),(0.64,-2),(0.71,0.2),(0.84,0),(1.26,0),(1.32,-1),(1.38,-3.2),(1.42,-3.9),(1.46,-2.8),(1.5,-0.8)]
C4_NUP = [(-1.5,0.8),(-1.43,0),(-1.2,0.2),(-1.12,0.9),(-1.05,1.8),(-1,1),(-0.95,0),(-0.7,0),(-0.55,1.2),(-0.47,1.6),(-0.36,1.1),(-0.3,1.4),(-0.24,3.8),(-0.2,2.5),(-0.15,0),(-0.08,-0.2),(0,0),(0.12,1.2),(0.25,0.4),(0.33,0.3),(0.45,0),(0.6,0.6),(0.72,1.4),(0.8,1.4),(0.92,0),(1.4,0),(1.5,0.3)]
C4_NDN = [(-1.5,0),(-1.3,-0.1),(-1.07,-1.5),(-0.95,0),(-0.75,0),(-0.6,-1),(-0.47,-2.3),(-0.33,-0.2),(-0.22,-1.8),(-0.12,-0.5),(0.12,-2.4),(0.2,-0.4),(0.35,-0.9),(0.45,-0.2),(0.58,-1.2),(0.68,0),(0.85,-1.1),(1,0),(1.5,-0.2)]
C4_BUP = [(-1.5,0.6),(-1.42,2),(-1.33,4.4),(-1.25,4.8),(-1.16,1.5),(-1.05,1.5),(-0.95,0),(-0.8,0),(-0.74,2),(-0.68,3.4),(-0.6,2.3),(-0.53,3.2),(-0.46,2),(-0.4,0.8),(-0.25,0.6),(-0.15,0),(0.05,0.2),(0.28,1.6),(0.4,0),(0.55,0.3),(0.65,2.5),(0.7,5.5),(0.73,6.8),(0.76,5.5),(0.8,2.5),(0.86,-0.6),(0.95,0),(1.3,0),(1.5,1.5)]
C4_BDN = [(-1.5,-0.3),(-1.42,-2.8),(-1.33,-4.3),(-1.25,-4.8),(-1.16,-1.5),(-1.0,-0.6),(-0.9,0.2),(-0.8,0),(-0.74,-3),(-0.68,-5.3),(-0.62,-3.2),(-0.55,-0.8),(-0.42,-0.2),(-0.22,-0.7),(-0.1,-1),(-0.02,-1.5),(0.15,-0.8),(0.3,-0.2),(0.55,-0.8),(0.65,-2),(0.69,-4),(0.73,-6.1),(0.78,-3.5),(0.85,0),(0.9,0.4),(1.0,0),(1.3,0),(1.42,-1.4),(1.5,-0.6)]

# box in px (left, top, right, bottom), y limit, y ticks, curves
PANELS = [
    ((68, 68, 405, 287), 20, [-20, -15, -10, -5, 0, 5, 10, 15, 20], [A1_CUP, A1_CDN, A1_NUP, A1_NDN, A1_BUP, A1_BDN]),
    ((449, 69, 791, 290), 25, [-20, -10, 0, 10, 20], [A2_CUP, A2_CDN, A2_NUP, A2_NDN, A2_BUP, A2_BDN]),
    ((73, 391, 415, 612), 25, [-20, -10, 0, 10, 20], [A3_CUP, A3_CDN, A3_NUP, A3_NDN, A3_BUP, A3_BDN]),
    ((458, 389, 802, 612), 20, [-20, -15, -10, -5, 0, 5, 10, 15, 20], [A4_CUP, A4_CDN, A4_NUP, A4_NDN, A4_BUP, A4_BDN]),
    ((58, 730, 297, 884), 17, [-15, -10, -5, 0, 5, 10, 15], [B1_CUP, B1_CDN, B1_NUP, B1_NDN, B1_BUP, B1_BDN]),
    ((335, 729, 573, 882), 17, [-15, -10, -5, 0, 5, 10, 15], [B2_CUP, B2_CDN, B2_NUP, B2_NDN, B2_BUP, B2_BDN]),
    ((612, 728, 845, 878), 12, [-10, -5, 0, 5, 10], [B3_CUP, B3_CDN, B3_NUP, B3_NDN, B3_BUP, B3_BDN]),
    ((66, 1013, 400, 1230), 17, [-15, -10, -5, 0, 5, 10, 15], [C1_CUP, C1_CDN, C1_NUP, C1_NDN, C1_BUP, C1_BDN]),
    ((468, 1017, 797, 1231), 17, [-15, -10, -5, 0, 5, 10, 15], [C2_CUP, C2_CDN, C2_NUP, C2_NDN, C2_BUP, C2_BDN]),
    ((79, 1332, 394, 1535), 17, [-15, -10, -5, 0, 5, 10, 15], [C3_CUP, C3_CDN, C3_NUP, C3_NDN, C3_BUP, C3_BDN]),
    ((484, 1333, 793, 1534), 12, [-10, -5, 0, 5, 10], [C4_CUP, C4_CDN, C4_NUP, C4_NDN, C4_BUP, C4_BDN]),
]

# title centre x, y, width-driven font size
TITLES = [(237, 41, 14.2), (620, 41, 14.2), (244, 362, 14.2), (631, 361, 14.2),
          (177.5, 710, 10.0), (454.5, 709, 10.0), (729, 708, 9.8),
          (234, 986, 14.1), (633, 990, 13.9), (237, 1306, 13.3), (639, 1307, 13.1)]
CAPTIONS = [('edge', 233, 329, 11.7, 'bold'), ('Off-edge', 621, 330, 12, 'bold'),
            ('center', 245, 648, 11.7, 'bold'), ('Half-half', 636, 648, 11.7, 'bold'),
            ('edge', 173, 918, 14, 'normal'), ('Off-edge', 455, 916, 14, 'normal'), ('Half-half', 732, 912, 14, 'normal'),
            ('edge', 238, 1271, 13.5, 'normal'), ('Off-edge', 629, 1271, 13.5, 'normal'),
            ('Center', 240, 1569, 13.5, 'normal'), ('Half-half', 637, 1569, 13.5, 'normal')]
TAGS = [('(a)', 11, 22), ('(b)', 11, 687), ('(c)', 14, 962)]


def draw_panel(fig, box, ylim, yticks, curves):
    left, top, right, bottom = box
    ax = fig.add_axes([left / W, 1 - bottom / H, (right - left) / W, (bottom - top) / H])
    ax.set_facecolor('#6bc9dc')
    s = (right - left) / 337
    small = s < 0.8

    ax.axvline(0, color='#14b394', lw=1.3 * s, zorder=1)
    for pts, label, color, lw in zip(curves, LABELS, COLORS, WIDTHS):
        x, y = zip(*pts)
        sns.lineplot(x=list(x), y=list(y), ax=ax, color=color, lw=lw * s, label=label,
                     sort=False, estimator=None, errorbar=None, zorder=3,
                     solid_joinstyle='round')

    ax.set_xlim(-1.5, 1.5)
    ax.set_ylim(-ylim, ylim)
    ax.set_xticks(XTICKS)
    ax.set_xticklabels(XTICKLABELS)
    ax.set_yticks(yticks)
    ax.tick_params(direction='in', length=2 * s, width=0.5, color='#3f6fd0', labelcolor='#5650b4',
                   labelsize=9.6 * s if not small else 6.6, pad=2.5 * s)
    for spine in ax.spines.values():
        spine.set_visible(True)
        spine.set_color('#3768d4')
        spine.set_linewidth(1.1 * s)

    ax.set_xlabel('Energy E-Ef (eV)', fontsize=7.4 * s, color='#555555')
    ax.set_ylabel('states /(eV)', fontsize=7.4 * s, color='#555555')
    h = bottom - top
    w = right - left
    ax.xaxis.set_label_coords(0.5, -16 * s / h, transform=ax.transAxes)
    ax.yaxis.set_label_coords(-19 * s / w, 0.5, transform=ax.transAxes)

    leg = ax.legend(loc='upper right', frameon=False, markerfirst=False, fontsize=5 * s,
                    labelcolor='#1f6fe0', handlelength=2.9, handletextpad=0.8,
                    labelspacing=0.2, borderaxespad=0, bbox_to_anchor=(1 - 3 * s / w, 1 - 5 * s / h))
    for line in leg.get_lines():
        line.set_linewidth(1.2 * s)
    return ax


def main():
    sns.set_theme(style='ticks')
    plt.rcParams['font.family'] = ['Liberation Sans', 'DejaVu Sans']

    fig = plt.figure(figsize=(W / 100, H / 100), dpi=100, facecolor='white')
    for box, ylim, yticks, curves in PANELS:
        draw_panel(fig, box, ylim, yticks, curves)

    for (cx, cy, size) in TITLES:
        fig.text(cx / W, 1 - cy / H, TITLE, family='DejaVu Sans', fontsize=size, color='#222222', ha='center', va='center')
    for text, cx, cy, size, weight in CAPTIONS:
        fig.text(cx / W, 1 - cy / H, text, fontsize=size, fontweight=weight, color='#111111', ha='center', va='center')
    for text, lx, cy in TAGS:
        fig.text(lx / W, 1 - cy / H, text, family='Liberation Serif', fontsize=11.7, color='#111111', ha='left', va='center')

    fig.savefig('out.png', dpi=100)
    plt.close(fig)


if __name__ == "__main__":
    main()
